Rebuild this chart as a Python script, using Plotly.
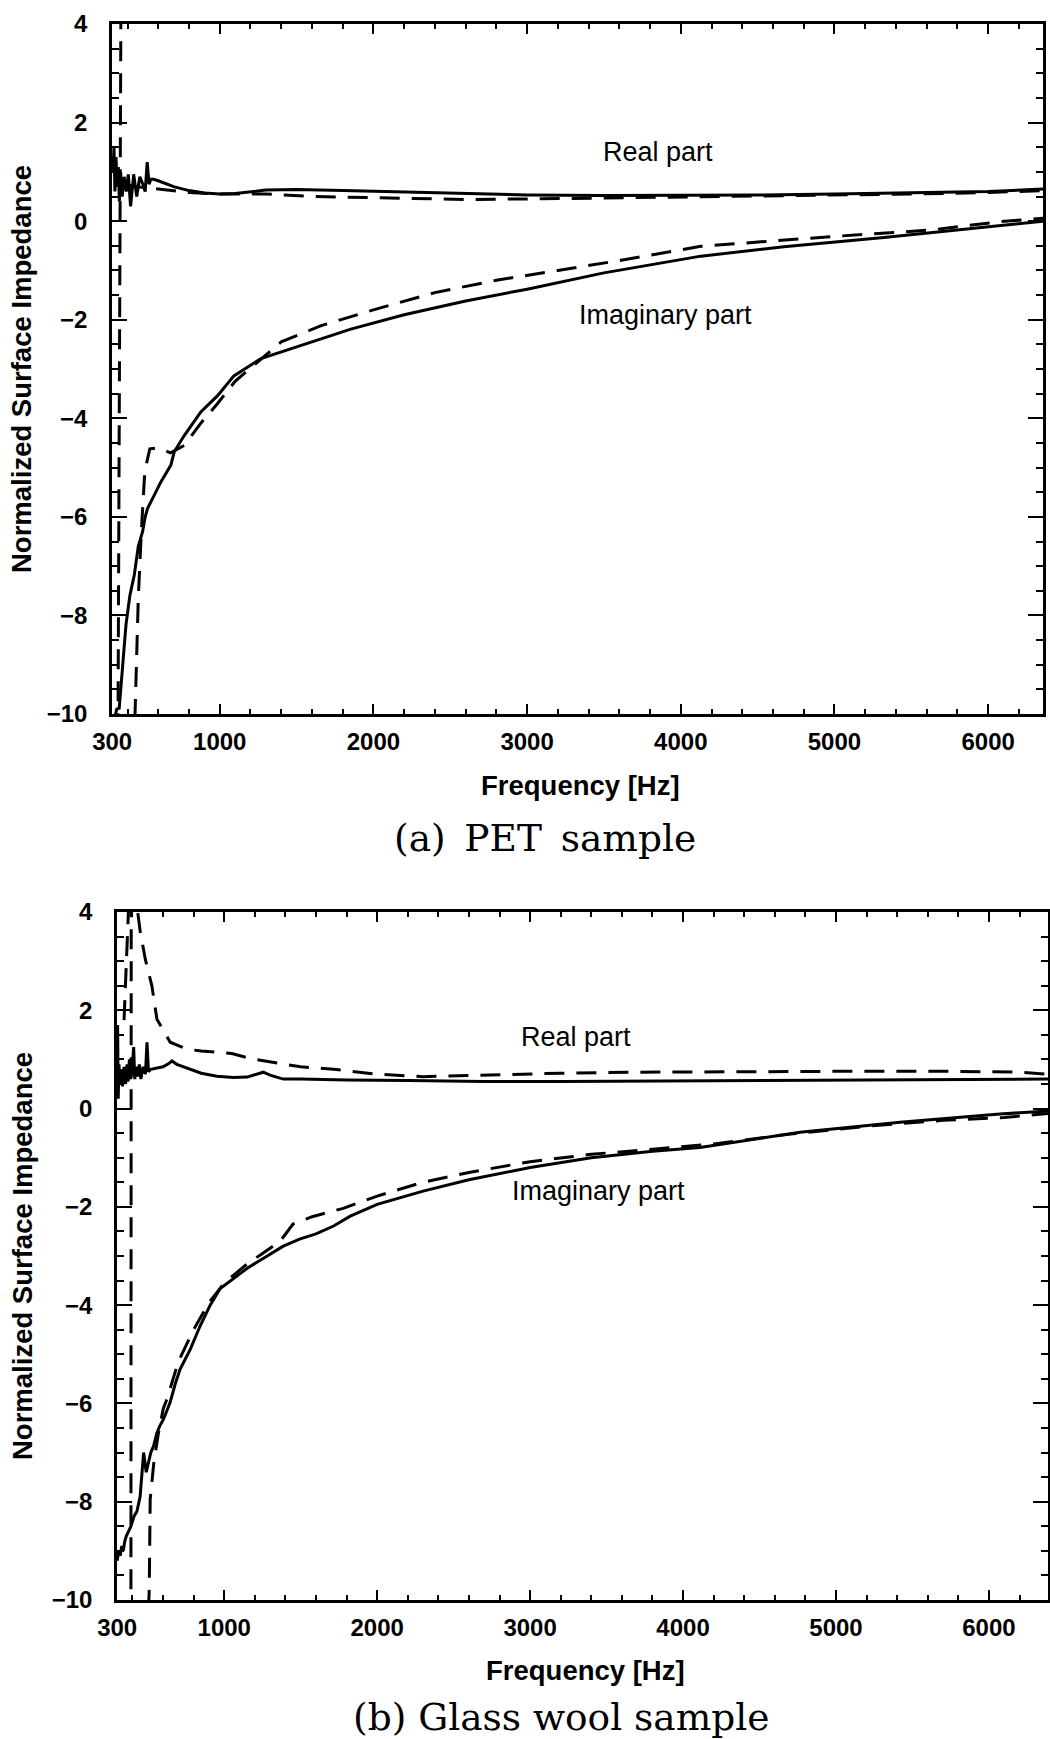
import plotly.graph_objects as go

W, H = 1050, 1739

# ---------------- Panel (a) PET sample ----------------
pet_real_meas_f = [305, 312, 318, 325, 332, 340, 347, 355, 365, 378, 392, 405, 420, 440, 460, 480, 500, 515,
                   528, 540, 552, 570, 600, 650, 700, 800, 900, 1000, 1100, 1300, 1500, 1800, 2100, 2500, 3000,
                   3500, 4000, 4500, 5000, 5500, 6000, 6357]
pet_real_meas_v = [1.0, 1.5, 0.6, 1.3, 0.7, 1.1, 0.4, 1.0, 0.5, 0.9, 0.6, 0.95, 0.3, 0.95, 0.5, 0.9, 0.75, 0.6,
                   1.2, 0.75, 0.85, 0.85, 0.82, 0.76, 0.7, 0.62, 0.57, 0.55, 0.56, 0.63, 0.64, 0.62, 0.6, 0.56, 0.53,
                   0.52, 0.52, 0.53, 0.55, 0.57, 0.6, 0.65]

pet_real_model_f = [380, 450, 600, 800, 1000, 1300, 1600, 2000, 2300, 2600, 3000, 3500, 4000, 4500, 5000, 5500,
                    6000, 6357]
pet_real_model_v = [0.75, 0.7, 0.65, 0.58, 0.55, 0.55, 0.5, 0.47, 0.45, 0.44, 0.45, 0.47, 0.48, 0.5, 0.52, 0.55,
                    0.58, 0.62]

pet_imag_meas_f = [318, 330, 346, 368, 390, 415, 444, 470, 498, 515, 530, 574, 617, 682, 704, 769, 877, 986,
                   1092, 1268, 1528, 1853, 2200, 2600, 3000, 3500, 4131, 4671, 5322, 5973, 6194, 6357]
pet_imag_meas_v = [-10.05, -9.9, -9.88, -9.0, -8.19, -7.6, -7.18, -6.6, -6.3, -6.0, -5.83, -5.56, -5.29, -4.95,
                   -4.68, -4.35, -3.87, -3.54, -3.14, -2.79, -2.53, -2.19, -1.9, -1.62, -1.38, -1.05, -0.71,
                   -0.52, -0.33, -0.13, -0.05, 0.0]

pet_imag_model_f = [357, 338, None, 448, 458, 470, 490, 510, 525, 545, 600, 680, 770, 877, 986, 1100, 1250,
                    1400, 1660, 2000, 2400, 2800, 3200, 3600, 4131, 4500, 4997, 5626, 6080, 6357]
pet_imag_model_v = [4.3, -10.3, None, -10.1, -8.9, -7.65, -6.3, -5.2, -4.9, -4.62, -4.6, -4.7, -4.55, -4.1,
                    -3.7, -3.25, -2.85, -2.45, -2.12, -1.8, -1.45, -1.2, -1.0, -0.8, -0.51, -0.42, -0.31, -0.18,
                    -0.01, 0.06]

# ---------------- Panel (b) Glass wool sample ----------------
gw_real_meas_f = [300, 303, 307, 312, 318, 325, 335, 345, 355, 365, 372, 380, 388, 398, 408, 415, 425, 435, 445,
                  455, 470, 485, 495, 505, 520, 560, 600, 640, 658, 690, 756, 850, 952, 1060, 1150, 1220, 1255,
                  1300, 1386, 1500, 1800, 2200, 2700, 3200, 3700, 4200, 4700, 5200, 5700, 6200, 6386]
gw_real_meas_v = [0.4, 1.7, 0.2, 0.9, 0.5, 0.8, 0.45, 0.85, 0.5, 0.9, 0.55, 1.0, 0.6, 0.8, 1.25, 0.6, 0.85, 0.65,
                  0.9, 0.6, 0.85, 0.7, 1.35, 0.75, 0.8, 0.82, 0.85, 0.92, 0.97, 0.9, 0.83, 0.72, 0.66, 0.63, 0.64,
                  0.7, 0.74, 0.68, 0.6, 0.6, 0.58, 0.57, 0.55, 0.55, 0.56, 0.57, 0.58, 0.58, 0.6, 0.6, 0.6]

gw_real_model_f = [345, 365, 380, 430, 451, 484, 527, 560, 600, 647, 700, 756, 850, 930, 1050, 1183, 1350, 1500,
                   1715, 2000, 2300, 2700, 3200, 3700, 4200, 4700, 5200, 5700, 6200, 6386]
gw_real_model_v = [1.8, 3.5, 4.5, 4.1, 3.6, 3.04, 2.5, 1.82, 1.6, 1.35, 1.28, 1.21, 1.17, 1.15, 1.12, 1.01, 0.92,
                   0.85, 0.8, 0.7, 0.65, 0.68, 0.72, 0.74, 0.75, 0.76, 0.76, 0.76, 0.74, 0.7]

gw_imag_meas_f = [300, 310, 320, 330, 340, 350, 360, 373, 390, 410, 429, 450, 473, 490, 505, 520, 538, 560, 580,
                  603, 625, 647, 680, 712, 745, 778, 843, 908, 974, 1060, 1150, 1281, 1386, 1497, 1600, 1715,
                  1824, 2000, 2300, 2600, 3000, 3400, 3800, 4111, 4765, 5418, 6072, 6386]
gw_imag_meas_v = [-9.2, -9.0, -9.1, -8.9, -9.0, -8.8, -8.7, -8.6, -8.5, -8.3, -8.2, -7.9, -7.0, -7.4, -7.2, -7.0,
                  -6.87, -6.6, -6.45, -6.32, -6.15, -5.97, -5.6, -5.3, -5.1, -4.9, -4.42, -4.0, -3.66, -3.46,
                  -3.25, -3.0, -2.8, -2.65, -2.55, -2.39, -2.19, -1.95, -1.68, -1.45, -1.2, -1.0, -0.87, -0.79,
                  -0.48, -0.28, -0.11, -0.05]

gw_imag_model_f = [392, 390, None, 505, 510, 516, 540, 570, 602, 627, 700, 800, 900, 1000, 1080, 1150, 1250,
                   1366, 1450, 1575, 1778, 2000, 2300, 2600, 3000, 3400, 3800, 4200, 4700, 5200, 5700, 6100, 6386]
gw_imag_model_v = [4.3, -10.3, None, -10.2, -9.77, -7.95, -7.2, -6.6, -6.1, -5.9, -5.15, -4.5, -3.95, -3.55,
                   -3.35, -3.16, -2.95, -2.7, -2.35, -2.2, -2.03, -1.78, -1.5, -1.3, -1.08, -0.93, -0.83, -0.72,
                   -0.52, -0.36, -0.24, -0.18, -0.1]

x_tick_vals = [300, 1000, 2000, 3000, 4000, 5000, 6000]
x_tick_text = ["300", "1000", "2000", "3000", "4000", "5000", "6000"]
y_tick_vals = [4, 2, 0, -2, -4, -6, -8, -10]
y_tick_text = ["4", "2", "0", "\u22122", "\u22124", "\u22126", "\u22128", "\u221210"]

# ---------------- figure ----------------
SANS = "Liberation Sans, Arial, sans-serif"
SERIF = "DejaVu Serif, serif"

fig = go.Figure()
solid = dict(color="black", width=3)
dashed = dict(color="black", width=3, dash="20px,12px")

panels = [
    ("x", "y", pet_real_meas_f, pet_real_meas_v, pet_imag_meas_f, pet_imag_meas_v,
     pet_real_model_f, pet_real_model_v, pet_imag_model_f, pet_imag_model_v),
    ("x2", "y2", gw_real_meas_f, gw_real_meas_v, gw_imag_meas_f, gw_imag_meas_v,
     gw_real_model_f, gw_real_model_v, gw_imag_model_f, gw_imag_model_v),
]
for xa, ya, rf, rv, imf, imv, mrf, mrv, mif, miv in panels:
    fig.add_trace(go.Scatter(x=mrf, y=mrv, mode="lines", line=dashed, xaxis=xa, yaxis=ya,
                             showlegend=False, connectgaps=False))
    fig.add_trace(go.Scatter(x=mif, y=miv, mode="lines", line=dashed, xaxis=xa, yaxis=ya,
                             showlegend=False, connectgaps=False))
    fig.add_trace(go.Scatter(x=rf, y=rv, mode="lines", line=solid, xaxis=xa, yaxis=ya, showlegend=False))
    fig.add_trace(go.Scatter(x=imf, y=imv, mode="lines", line=solid, xaxis=xa, yaxis=ya, showlegend=False))

def px_x(p):
    return p / W

def px_y(p):
    return 1 - p / H

# pixel geometry of each plot box
A = dict(l=112, r=1043, t=24, b=714, xr=[299, 6357], capdx=-33, ttl=71, cap=124,
         caption="(a)\u2002PET\u2002sample")
B = dict(l=117, r=1048, t=912, b=1600, xr=[299, 6386], capdx=-22, ttl=70, cap=117,
         caption="(b) Glass wool sample")

def xaxis_cfg(g, anchor):
    return dict(domain=[px_x(g["l"]), px_x(g["r"])], range=g["xr"], anchor=anchor, automargin=False,
                tickmode="array", tickvals=x_tick_vals, ticktext=x_tick_text,
                ticks="inside", ticklen=10, tickwidth=2, tickcolor="black",
                showline=True, linecolor="black", linewidth=2.5, mirror="ticks",
                showgrid=False, zeroline=False, ticklabelstandoff=4,
                tickfont=dict(family=SANS, size=24, color="black", weight="bold"),
                minor=dict(tickmode="linear", tick0=0, dtick=200, ticks="inside", ticklen=5,
                           tickwidth=2, tickcolor="black", showgrid=False))

def yaxis_cfg(g, anchor):
    return dict(domain=[px_y(g["b"]), px_y(g["t"])], range=[-10, 4], anchor=anchor, automargin=False,
                tickmode="array", tickvals=y_tick_vals, ticktext=y_tick_text,
                ticks="inside", ticklen=15, tickwidth=2, tickcolor="black",
                showline=True, linecolor="black", linewidth=2.5, mirror="ticks",
                showgrid=False, zeroline=False, ticklabelstandoff=17,
                tickfont=dict(family=SANS, size=24, color="black", weight="bold"),
                minor=dict(tickmode="linear", tick0=0, dtick=0.5, ticks="inside", ticklen=7,
                           tickwidth=2, tickcolor="black", showgrid=False))

fig.update_layout(
    template="none",
    width=W, height=H, margin=dict(l=0, r=0, t=0, b=0, pad=0, autoexpand=False),
    paper_bgcolor="white", plot_bgcolor="white",
    xaxis=xaxis_cfg(A, "y"), yaxis=yaxis_cfg(A, "x"),
    xaxis2=xaxis_cfg(B, "y2"), yaxis2=yaxis_cfg(B, "x2"),
)

ann = []
for g in (A, B):
    cx = (g["l"] + g["r"]) / 2
    cy = (g["t"] + g["b"]) / 2
    ann.append(dict(x=px_x(22), y=px_y(cy), xref="paper", yref="paper", text="Normalized Surface Impedance",
                    textangle=-90, showarrow=False, xanchor="center", yanchor="middle",
                    font=dict(family=SANS, size=27.5, color="black", weight="bold")))
    ann.append(dict(x=px_x(cx + 3), y=px_y(g["b"] + g["ttl"]), xref="paper", yref="paper",
                    text="Frequency [Hz]", showarrow=False, xanchor="center", yanchor="middle",
                    font=dict(family=SANS, size=27.5, color="black", weight="bold")))
    ann.append(dict(x=px_x(cx + g["capdx"]), y=px_y(g["b"] + g["cap"]), xref="paper", yref="paper",
                    text=g["caption"], showarrow=False, xanchor="center", yanchor="middle",
                    font=dict(family=SERIF, size=37.5, color="black")))

ann += [
    dict(x=3850, y=1.4, xref="x", yref="y", text="Real part", showarrow=False,
         font=dict(family=SANS, size=27, color="black")),
    dict(x=3900, y=-1.9, xref="x", yref="y", text="Imaginary part", showarrow=False,
         font=dict(family=SANS, size=27, color="black")),
    dict(x=3300, y=1.45, xref="x2", yref="y2", text="Real part", showarrow=False,
         font=dict(family=SANS, size=27, color="black")),
    dict(x=3450, y=-1.68, xref="x2", yref="y2", text="Imaginary part", showarrow=False,
         font=dict(family=SANS, size=27, color="black")),
]
fig.update_layout(annotations=ann)

fig.write_html(
    "out.html",
    config={"displayModeBar": False},
    post_script="document.documentElement.style.margin='0';document.body.style.margin='0';"
                "document.body.style.overflow='hidden';",
)
